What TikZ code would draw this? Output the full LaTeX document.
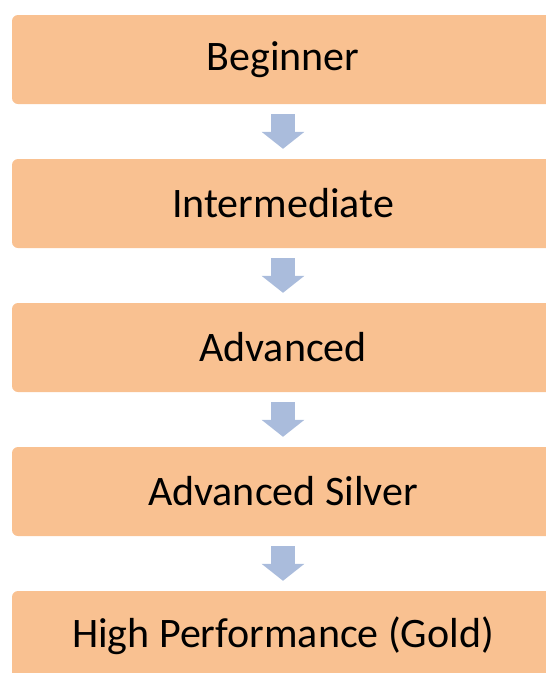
\documentclass[tikz,border=0pt]{standalone}
\usepackage{fontspec}
\setmainfont{Carlito}
\usepackage{tikz}
\usetikzlibrary{arrows.meta, positioning}

\definecolor{levelfill}{RGB}{249,193,145}
\definecolor{stepblue}{RGB}{170,188,220}

\begin{document}
\begin{tikzpicture}[
    x=1pt, y=-1pt,
    box/.style={rectangle, fill=levelfill, rounded corners=6pt,
                minimum width=542pt, minimum height=89pt,
                inner sep=0pt, align=center,
                font=\fontsize{42}{48}\selectfont},
    arrow/.style={-{Triangle[width=42pt, length=17pt]},
                  line width=24pt, stepblue, shorten <=10pt, shorten >=10pt},
]
\useasboundingbox (0,0) rectangle (546,673);
\clip (0,0) rectangle (546,673);

% ── Levels, one row every 144px ───────────────────────────────────
\node[box] (beginner) at (283, 59.5)  {Beginner};
\node[box] (inter)    at (283, 203.5) {Intermediate};
\node[box] (adv)      at (283, 347.5) {Advanced};
\node[box] (silver)   at (283, 491.5) {Advanced Silver};
\node[box] (gold)     at (283, 635.5) {High Performance (Gold)};

% ── Arrows (straight vertical) ────────────────────────────────────
\draw[arrow] (beginner) -- (inter);
\draw[arrow] (inter)    -- (adv);
\draw[arrow] (adv)      -- (silver);
\draw[arrow] (silver)   -- (gold);

\end{tikzpicture}
\end{document}
